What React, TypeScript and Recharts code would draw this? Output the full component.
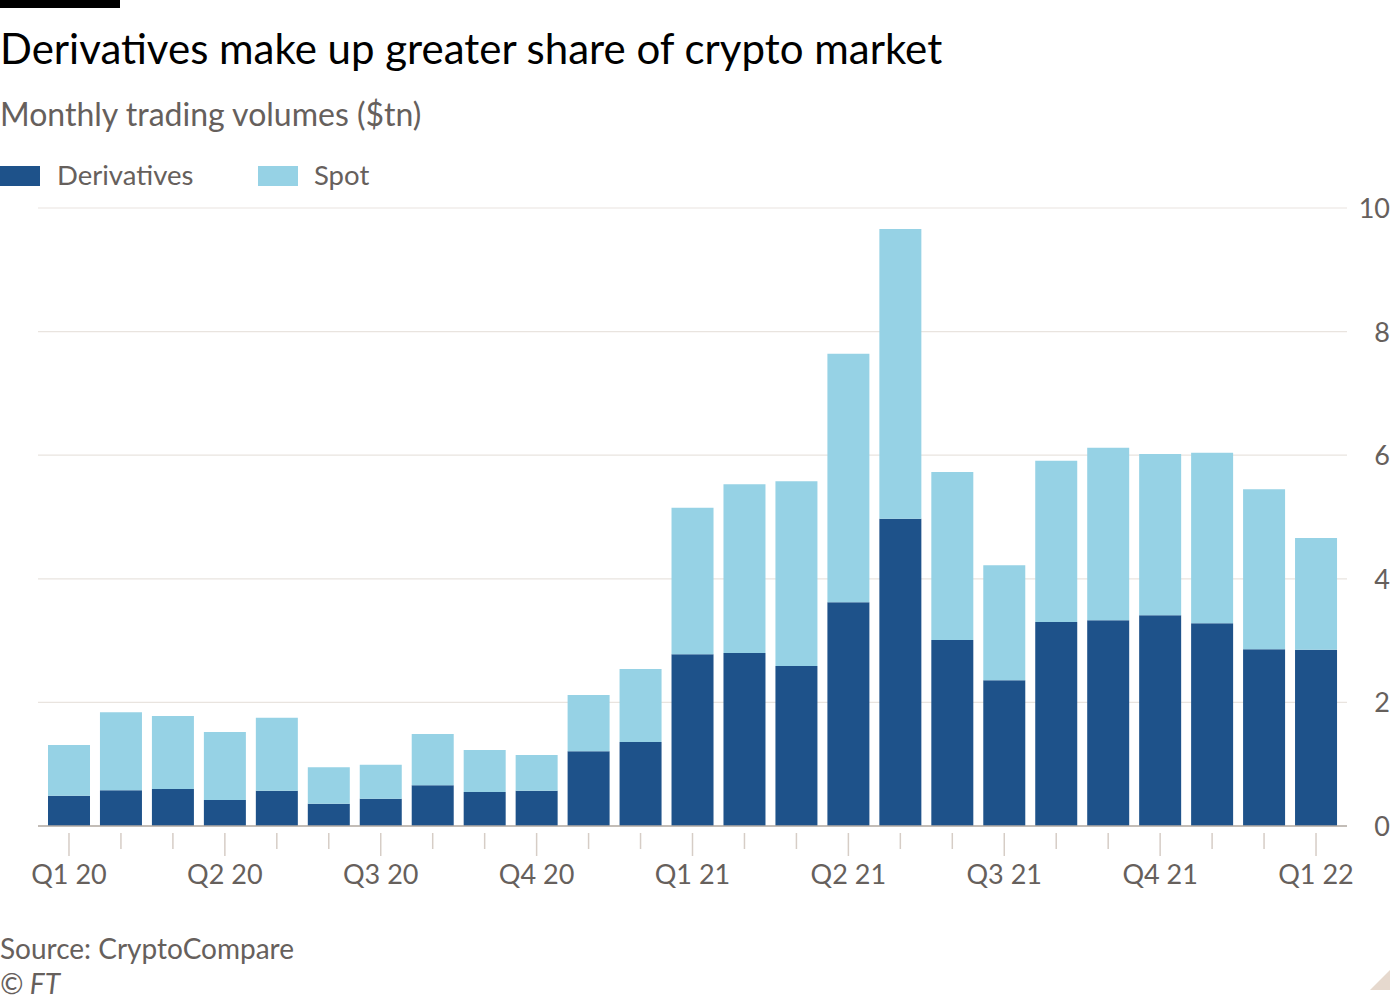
import React from 'react';
import { BarChart, Bar, XAxis, YAxis, CartesianGrid } from 'recharts';

const months = [
  'Jan 20', 'Feb 20', 'Mar 20', 'Apr 20', 'May 20', 'Jun 20', 'Jul 20', 'Aug 20', 'Sep 20',
  'Oct 20', 'Nov 20', 'Dec 20', 'Jan 21', 'Feb 21', 'Mar 21', 'Apr 21', 'May 21', 'Jun 21',
  'Jul 21', 'Aug 21', 'Sep 21', 'Oct 21', 'Nov 21', 'Dec 21', 'Jan 22',
];
const derivatives = [
  0.49, 0.58, 0.60, 0.42, 0.57, 0.36, 0.44, 0.66, 0.55, 0.57, 1.21, 1.36, 2.78,
  2.80, 2.59, 3.62, 4.97, 3.01, 2.36, 3.30, 3.33, 3.41, 3.28, 2.86, 2.85,
];
const spot = [
  0.82, 1.26, 1.18, 1.10, 1.18, 0.59, 0.55, 0.83, 0.68, 0.58, 0.91, 1.18, 2.37,
  2.73, 2.99, 4.02, 4.69, 2.72, 1.86, 2.61, 2.79, 2.61, 2.76, 2.59, 1.81,
];
const quarterLabels = ['Q1 20', 'Q2 20', 'Q3 20', 'Q4 20', 'Q1 21', 'Q2 21', 'Q3 21', 'Q4 21', 'Q1 22'];
const yTicks = [0, 2, 4, 6, 8, 10];

const DARK = '#1e528a';
const LIGHT = '#96d2e5';
const GREY = '#66605c';
const FONT = 'Lato, "Noto Sans", sans-serif';

const data = months.map((m, i) => ({ month: m, derivatives: derivatives[i], spot: spot[i] }));

const XTick = ({ x, y, index }: any) => {
  const quarter = index % 3 === 0;
  return (
    <g>
      <line x1={x} x2={x} y1={y - 1} y2={y + (quarter ? 22 : 15)} stroke="#d6cdc6" strokeWidth={1.5} />
      {quarter && (
        <text x={x} y={y + 50} textAnchor="middle" fill={GREY} fontSize={27} fontFamily={FONT}>
          {quarterLabels[index / 3]}
        </text>
      )}
    </g>
  );
};

const YTick = ({ y, payload }: any) => (
  <text x={1390} y={y + 10} textAnchor="end" fill={GREY} fontSize={27} fontFamily={FONT}>
    {payload.value}
  </text>
);

export default function App() {
  return (
    <div style={{ position: 'relative', width: 1400, height: 1000, background: '#fff', fontFamily: FONT }}>
      <style>{'body{margin:0}'}</style>
      <div style={{ position: 'absolute', left: 0, top: 0, width: 120, height: 8, background: '#000' }} />
      <div style={{ position: 'absolute', left: 0, top: 23, fontSize: 42, color: '#000', whiteSpace: 'nowrap' }}>
        Derivatives make up greater share of crypto market
      </div>
      <div style={{ position: 'absolute', left: 0, top: 94, fontSize: 32, color: GREY, whiteSpace: 'nowrap' }}>
        Monthly trading volumes ($tn)
      </div>
      <div style={{ position: 'absolute', left: 0, top: 166, width: 40, height: 20, background: DARK }} />
      <div style={{ position: 'absolute', left: 57, top: 158, fontSize: 27.5, color: GREY }}>Derivatives</div>
      <div style={{ position: 'absolute', left: 258, top: 166, width: 40, height: 20, background: LIGHT }} />
      <div style={{ position: 'absolute', left: 314, top: 158, fontSize: 27.5, color: GREY }}>Spot</div>

      <div style={{ position: 'absolute', left: 0, top: 0 }}>
        <BarChart
          width={1400}
          height={1000}
          data={data}
          margin={{ top: 208, right: 0, bottom: 114, left: 38 }}
        >
          <CartesianGrid horizontal vertical={false} stroke="#e9e4df" strokeWidth={1.2} />
          <XAxis
            dataKey="month"
            interval={0}
            height={60}
            padding={{ left: 5, right: 5 }}
            axisLine={{ stroke: '#b3aba5', strokeWidth: 1.5 }}
            tickLine={false}
            tick={<XTick />}
          />
          <YAxis
            orientation="right"
            width={53}
            domain={[0, 10]}
            ticks={yTicks}
            axisLine={false}
            tickLine={false}
            tick={<YTick />}
          />
          <Bar dataKey="derivatives" stackId="a" fill={DARK} barSize={42} isAnimationActive={false} />
          <Bar dataKey="spot" stackId="a" fill={LIGHT} barSize={42} isAnimationActive={false} />
        </BarChart>
      </div>

      <div style={{ position: 'absolute', left: 0, top: 931, fontSize: 28, color: GREY }}>Source: CryptoCompare</div>
      <div style={{ position: 'absolute', left: 0, top: 966, fontSize: 28, color: GREY, fontStyle: 'italic' }}>© FT</div>
      <svg style={{ position: 'absolute', left: 1370, top: 970 }} width={30} height={30}>
        <polygon points="20,0 20,20 0,20" fill="#e6d9ce" />
      </svg>
    </div>
  );
}
